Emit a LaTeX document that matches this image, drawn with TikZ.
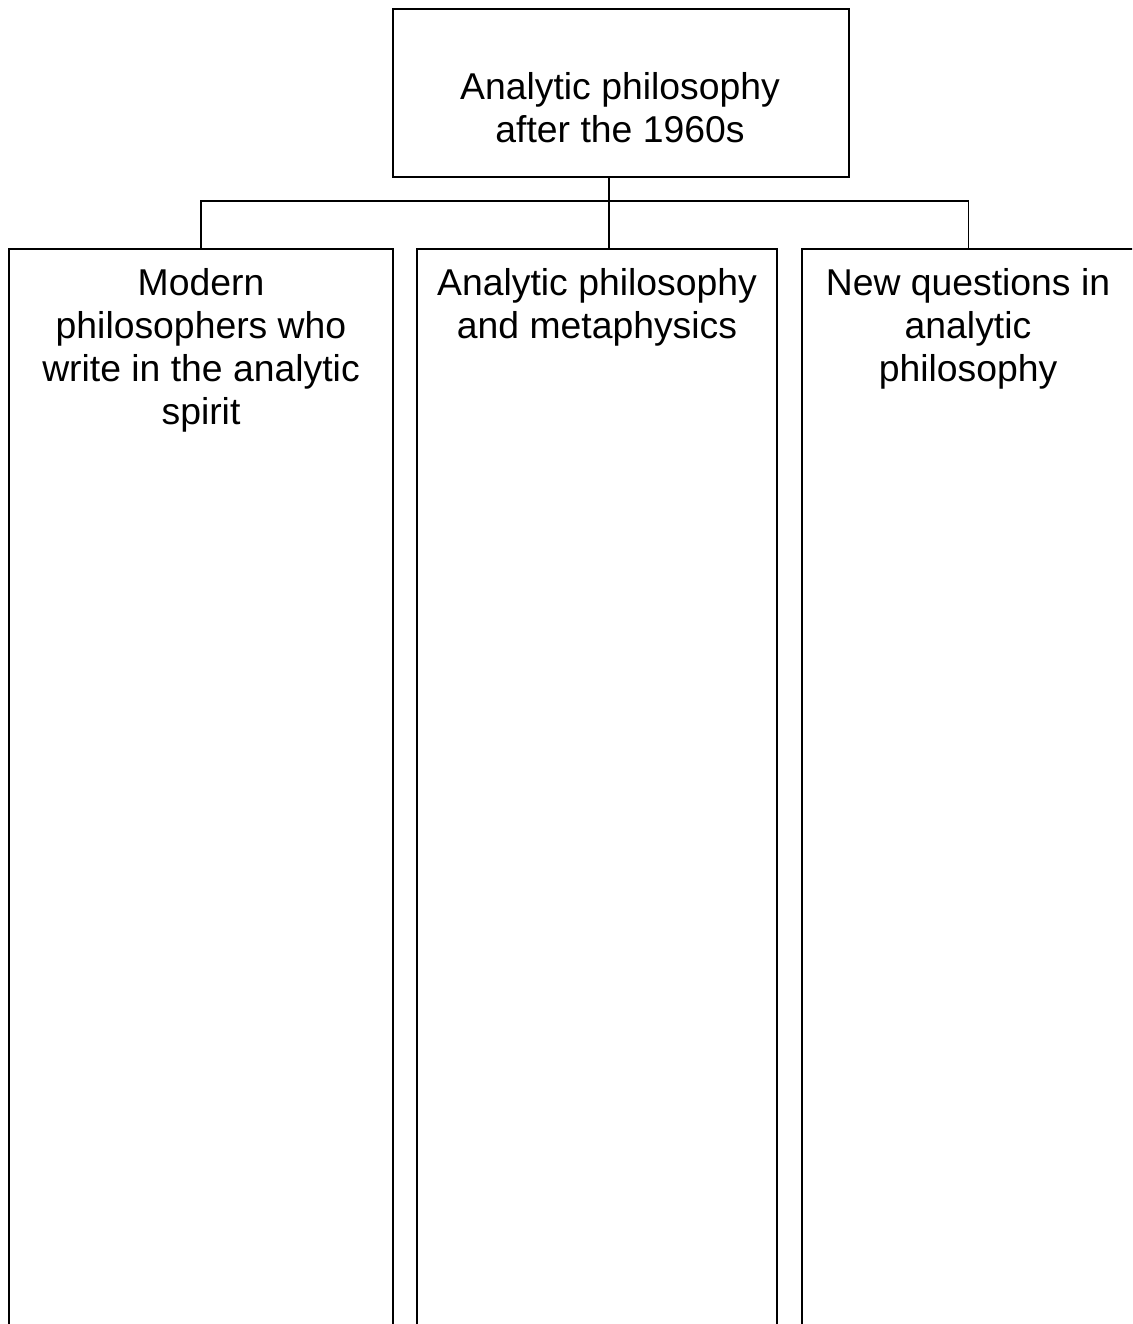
\documentclass[tikz,border=0pt]{standalone}
\usepackage{fontspec}
\setmainfont{Liberation Sans}
\begin{document}
\begin{tikzpicture}[x=0.75pt,y=-0.75pt,
  box/.style={draw, line width=1.3pt, rectangle, inner sep=0pt},
  lbl/.style={align=center, inner sep=0pt, font=\fontsize{28}{32.25}\selectfont},
  conn/.style={line width=1.3pt}]
\useasboundingbox (0,0) rectangle (1132,1324);
\clip (0,0) rectangle (1132,1324);
\node[box, minimum width=342pt, minimum height=126pt] (top) at (621,93) {};
\node[lbl] (ttop) at (620,108) {Analytic philosophy\\after the 1960s};
\node[box, minimum width=288pt, minimum height=863.25pt] (c1) at (201,824.5) {};
\node[box, minimum width=270pt, minimum height=863.25pt] (c2) at (597,824.5) {};
\node[box, minimum width=249.75pt, minimum height=863.25pt] (c3) at (968.5,824.5) {};
\node[lbl, anchor=north] (t1) at (201,268) {Modern\\philosophers who\\write in the analytic\\spirit};
\node[lbl, anchor=north] (t2) at (597,268) {Analytic philosophy\\and metaphysics};
\node[lbl, anchor=north] (t3) at (968,268) {New questions in\\analytic\\philosophy};
\coordinate (j) at (609,201);
\draw[conn] (top.south -| j) -- (j);
\draw[conn] (c1.north) |- (j);
\draw[conn] (c3.north) |- (j);
\draw[conn] (c2.north -| j) -- (j);
\end{tikzpicture}
\end{document}
